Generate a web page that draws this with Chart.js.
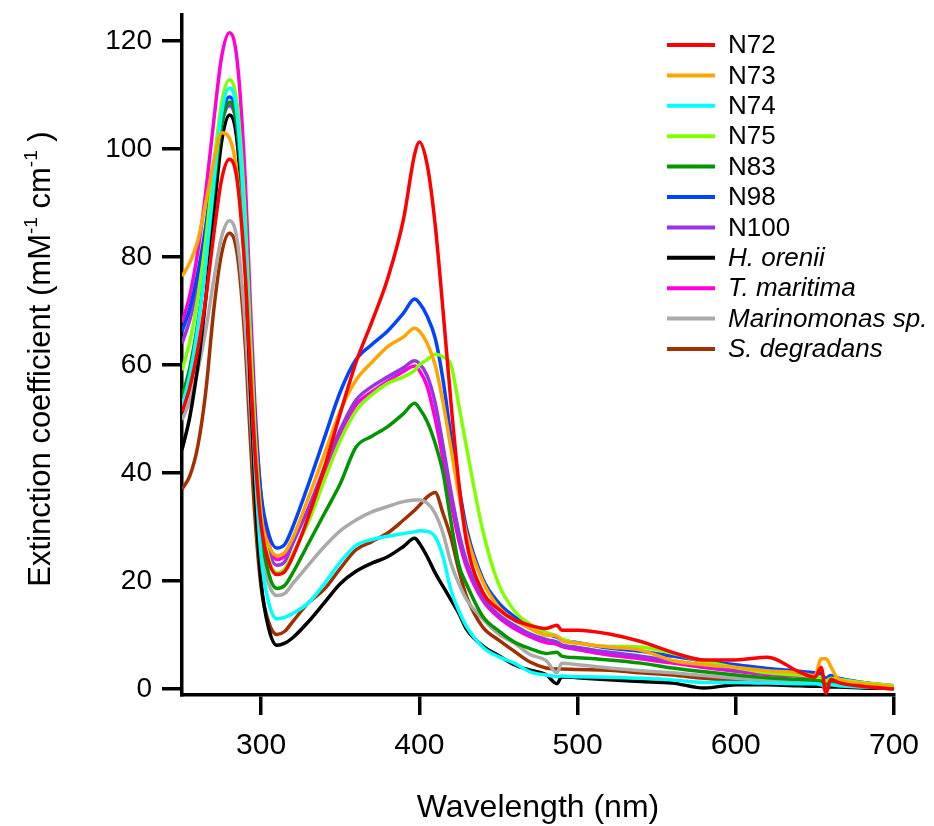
<!DOCTYPE html>
<html>
<head>
<meta charset="utf-8">
<title>Extinction coefficient</title>
<script src="https://cdn.jsdelivr.net/npm/chart.js@4.4.1/dist/chart.umd.min.js"></script>
<style>
  html, body { margin: 0; padding: 0; background: #fff; }
  canvas { display: block; }
</style>
</head>
<body>
<canvas id="chartExtincion" width="934" height="826"></canvas>
<script>
const wavelengths = [250, 255, 260, 265, 270, 275, 280, 285, 290, 293, 296, 300, 305, 310, 315, 320, 330, 340, 350, 360, 370, 380, 390, 397, 400, 405, 410, 415, 420, 425, 430, 440, 450, 460, 470, 480, 487, 490, 500, 520, 540, 560, 580, 600, 620, 640, 650, 654, 657, 660, 665, 680, 700];

const n72 = [51.2, 55.9, 62.9, 72.3, 84.0, 94.3, 98.1, 93.9, 76.5, 59.6, 44.2, 30.3, 23.4, 21.2, 21.8, 24.5, 32.0, 41.0, 51.0, 60.5, 68.0, 76.0, 87.0, 99.0, 101.3, 97.0, 86.0, 70.0, 53.0, 38.0, 27.0, 18.0, 14.8, 12.8, 11.8, 11.2, 11.8, 10.9, 10.9, 10.2, 8.8, 6.8, 5.4, 5.4, 5.9, 3.2, 2.2, 4.0, -0.8, 1.8, 1.2, 0.5, 0.0];
const n73 = [76.4, 79.0, 83.0, 90.0, 97.5, 103.0, 102.0, 94.9, 77.0, 62.0, 46.0, 32.0, 26.5, 24.7, 25.3, 28.0, 35.5, 43.5, 51.5, 57.2, 60.5, 63.4, 65.2, 66.8, 66.3, 64.0, 60.0, 53.0, 44.5, 36.0, 28.5, 20.0, 15.2, 12.8, 11.2, 10.0, 9.8, 9.0, 8.5, 7.8, 7.2, 5.3, 4.5, 4.0, 3.4, 3.0, 2.5, 5.6, 5.6, 4.2, 1.8, 1.0, 0.3];
const n74 = [52.3, 58.2, 67.0, 78.9, 93.6, 106.6, 111.3, 105.9, 83.7, 62.0, 42.4, 24.6, 15.8, 13.0, 13.3, 14.0, 16.0, 19.5, 23.5, 26.6, 27.7, 28.3, 28.8, 29.1, 29.3, 29.2, 28.2, 24.5, 18.3, 14.5, 11.5, 7.8, 6.0, 4.8, 3.2, 2.6, 2.3, 2.4, 2.3, 2.2, 2.0, 1.7, 1.2, 1.2, 1.1, 1.0, 1.0, 0.8, 0.3, 0.8, 0.6, 0.4, 0.2];
const n75 = [59.0, 64.4, 72.5, 83.2, 96.7, 108.5, 112.8, 107.8, 87.2, 67.1, 48.8, 32.4, 24.1, 21.5, 22.3, 25.0, 31.0, 38.7, 46.0, 51.5, 54.5, 56.6, 57.8, 59.0, 60.0, 61.0, 62.0, 61.5, 60.0, 52.5, 44.5, 29.5, 19.5, 14.5, 12.0, 10.5, 9.8, 9.3, 8.5, 7.9, 7.8, 6.6, 5.1, 4.0, 3.0, 2.6, 2.3, 2.2, 1.5, 2.0, 1.8, 1.2, 0.6];
const n83 = [54.1, 59.6, 67.8, 78.7, 92.3, 104.3, 108.7, 103.7, 83.4, 63.6, 45.6, 29.3, 21.2, 18.6, 19.2, 21.5, 27.0, 32.5, 38.0, 44.8, 46.8, 48.6, 51.0, 52.9, 52.0, 49.5, 45.5, 40.0, 31.0, 23.0, 19.3, 13.5, 10.8, 8.7, 7.5, 6.6, 6.8, 6.1, 5.8, 5.4, 4.8, 3.9, 3.2, 2.6, 2.1, 1.8, 1.6, 1.5, 1.0, 1.4, 1.2, 0.8, 0.4];
const n98 = [66.2, 70.5, 77.0, 85.7, 96.6, 106.1, 109.6, 105.0, 86.2, 67.8, 51.0, 36.0, 28.5, 26.1, 26.8, 30.0, 38.0, 46.5, 55.0, 61.0, 63.8, 66.3, 69.6, 72.2, 71.5, 69.0, 65.0, 57.2, 46.7, 37.5, 29.5, 20.5, 16.0, 13.4, 11.5, 10.2, 9.6, 9.1, 8.6, 7.6, 7.0, 6.1, 5.2, 4.5, 3.8, 3.3, 3.0, 2.8, 2.0, 2.5, 2.0, 1.2, 0.4];
const n100 = [64.0, 68.4, 75.0, 83.8, 94.8, 104.5, 108.0, 103.3, 84.1, 65.4, 48.4, 33.0, 25.4, 22.9, 23.6, 27.0, 33.5, 41.0, 48.0, 53.5, 56.0, 57.8, 59.5, 60.8, 60.3, 58.0, 53.0, 45.0, 36.5, 29.0, 23.5, 17.0, 13.8, 11.8, 10.2, 9.2, 8.7, 8.2, 7.7, 6.8, 6.1, 5.2, 4.4, 3.6, 3.0, 2.6, 2.4, 2.3, 1.8, 2.1, 1.8, 1.1, 0.5];
const hOrenii = [44.3, 50.5, 59.8, 72.2, 87.7, 101.3, 106.3, 100.9, 78.8, 57.2, 37.5, 19.8, 11.0, 8.1, 8.5, 9.5, 12.5, 16.0, 19.5, 21.8, 23.3, 24.5, 26.4, 27.9, 27.0, 24.5, 21.5, 19.0, 16.5, 14.0, 11.0, 8.0, 6.2, 4.5, 3.5, 2.7, 1.0, 2.3, 2.1, 1.7, 1.4, 1.1, 0.2, 0.8, 0.8, 0.6, 0.5, 0.5, 0.3, 0.4, 0.4, 0.2, 0.1];
const tMaritima = [67.8, 73.0, 81.0, 92.0, 105.0, 117.0, 121.5, 116.0, 94.0, 72.7, 53.2, 35.6, 26.8, 24.0, 24.7, 27.5, 33.5, 40.0, 47.0, 52.6, 55.0, 57.0, 58.8, 59.8, 59.0, 56.0, 50.0, 42.5, 34.5, 27.5, 22.5, 16.5, 13.3, 11.2, 9.7, 8.6, 8.3, 7.9, 7.3, 6.3, 5.6, 4.8, 4.0, 3.3, 2.7, 2.4, 2.3, 2.4, 1.5, 2.2, 1.9, 1.2, 0.6];
const marinomonas = [49.8, 53.5, 59.0, 66.4, 75.6, 83.7, 86.7, 82.9, 67.2, 52.0, 38.0, 25.5, 19.3, 17.3, 17.7, 19.5, 23.0, 26.4, 29.3, 31.3, 32.8, 33.8, 34.7, 35.0, 35.0, 34.4, 32.5, 28.8, 23.3, 19.5, 16.5, 13.0, 10.2, 8.5, 6.4, 5.3, 3.0, 4.8, 4.5, 3.9, 3.4, 3.0, 2.5, 2.0, 1.6, 1.4, 1.3, 1.2, -0.4, 1.0, 0.9, 0.5, 0.2];
const sDegradans = [37.0, 39.5, 45.0, 55.0, 70.0, 80.6, 84.4, 80.3, 63.6, 47.2, 32.3, 18.9, 12.2, 10.1, 10.7, 12.5, 16.0, 18.5, 22.3, 25.8, 27.3, 28.9, 31.3, 33.1, 34.0, 35.6, 36.4, 32.5, 28.0, 22.0, 17.0, 11.5, 9.1, 7.0, 5.0, 3.9, 3.7, 3.7, 3.6, 3.5, 3.0, 2.6, 2.0, 1.6, 1.2, 1.0, 0.9, 0.9, 0.5, 0.8, 0.7, 0.4, 0.2];

const seriesNames = ['N72', 'N73', 'N74', 'N75', 'N83', 'N98', 'N100', 'H. orenii', 'T. maritima', 'Marinomonas sp.', 'S. degradans'];
const seriesValues = [n72, n73, n74, n75, n83, n98, n100, hOrenii, tMaritima, marinomonas, sDegradans];
const seriesColors = ['#ff0000', '#ffa500', '#00ffff', '#80ff00', '#009600', '#0044ff', '#9933e6', '#000000', '#ff00d8', '#aaaaaa', '#a03000'];
const seriesItalic = [false, false, false, false, false, false, false, true, true, true, true];

const xTicks = [300, 400, 500, 600, 700];
const yTicks = [0, 20, 40, 60, 80, 100, 120];

const fuente = '"Liberation Sans", Arial, sans-serif';
Chart.defaults.font.family = fuente;
Chart.defaults.color = '#000';

const datasets = seriesNames.map((name, i) => ({
    label: name,
    data: wavelengths.map((w, j) => ({ x: w, y: seriesValues[i][j] })),
    borderColor: seriesColors[i],
    backgroundColor: seriesColors[i],
    borderWidth: 3.5,
    pointRadius: 0,
    cubicInterpolationMode: 'monotone',
    fill: false
}));

// leyenda a la derecha, dentro del area
const legendaPlugin = {
    id: 'legenda',
    afterDraw(chart) {
        const ctx = chart.ctx;
        ctx.save();
        seriesNames.forEach((name, i) => {
            const y = 45 + i * 30.4;
            ctx.strokeStyle = seriesColors[i];
            ctx.lineWidth = 4;
            ctx.beginPath();
            ctx.moveTo(667, y);
            ctx.lineTo(715, y);
            ctx.stroke();
            ctx.fillStyle = '#000';
            ctx.font = (seriesItalic[i] ? 'italic ' : '') + '26px ' + fuente;
            ctx.textBaseline = 'middle';
            ctx.textAlign = 'left';
            ctx.fillText(name, 728, y + 1);
        });
        ctx.restore();
    }
};

// titulos de los ejes (con superindices)
const titulosPlugin = {
    id: 'titulos',
    afterDraw(chart) {
        const ctx = chart.ctx;
        const area = chart.chartArea;
        ctx.save();
        ctx.fillStyle = '#000';
        ctx.textBaseline = 'alphabetic';
        ctx.font = '32px ' + fuente;
        ctx.textAlign = 'center';
        ctx.fillText('Wavelength (nm)', (area.left + area.right) / 2, 817);

        const partes = [
            ['Extinction coefficient (mM', false],
            ['-1', true],
            [' cm', false],
            ['-1', true],
            [' )', false]
        ];
        const fNormal = '31px ' + fuente;
        const fSup = '19px ' + fuente;
        let total = 0;
        partes.forEach(([t, sup]) => {
            ctx.font = sup ? fSup : fNormal;
            total += ctx.measureText(t).width;
        });
        ctx.translate(50, 359 + total / 2);
        ctx.rotate(-Math.PI / 2);
        ctx.textAlign = 'left';
        let x = 0;
        partes.forEach(([t, sup]) => {
            ctx.font = sup ? fSup : fNormal;
            ctx.fillText(t, x, sup ? -13 : 0);
            x += ctx.measureText(t).width;
        });
        ctx.restore();
    }
};

new Chart(document.getElementById('chartExtincion'), {
    type: 'line',
    data: { datasets: datasets },
    options: {
        responsive: false,
        animation: false,
        devicePixelRatio: 1,
        layout: { padding: { top: 15, right: 40, left: 0, bottom: 0 } },
        scales: {
            x: {
                type: 'linear',
                min: 250,
                max: 700,
                afterBuildTicks: (scale) => { scale.ticks = xTicks.map(v => ({ value: v })); },
                afterFit: (scale) => {
                    scale.height = 131;
                    scale.paddingLeft = 0;
                    scale.paddingRight = 0;
                },
                ticks: {
                    font: { family: '"Liberation Sans Narrow", ' + fuente, size: 30 },
                    color: '#000',
                    padding: 13,
                    maxRotation: 0
                },
                grid: {
                    drawOnChartArea: false,
                    drawTicks: true,
                    lineWidth: 3.5,
                    tickLength: 20,
                    tickWidth: 3.5,
                    tickColor: '#000'
                },
                border: { display: true, color: '#000', width: 3.5 }
            },
            y: {
                min: -1.1,
                max: 124.8,
                afterBuildTicks: (scale) => { scale.ticks = yTicks.map(v => ({ value: v })); },
                afterFit: (scale) => {
                    scale.width = 182;
                    scale.paddingTop = 0;
                    scale.paddingBottom = 0;
                },
                ticks: {
                    font: { size: 28 },
                    color: '#000',
                    padding: 10
                },
                grid: {
                    drawOnChartArea: false,
                    drawTicks: true,
                    lineWidth: 3.5,
                    tickLength: 20,
                    tickWidth: 3.5,
                    tickColor: '#000'
                },
                border: { display: true, color: '#000', width: 3.5 }
            }
        },
        plugins: {
            legend: { display: false },
            tooltip: { enabled: false }
        }
    },
    plugins: [legendaPlugin, titulosPlugin]
});
</script>
</body>
</html>
